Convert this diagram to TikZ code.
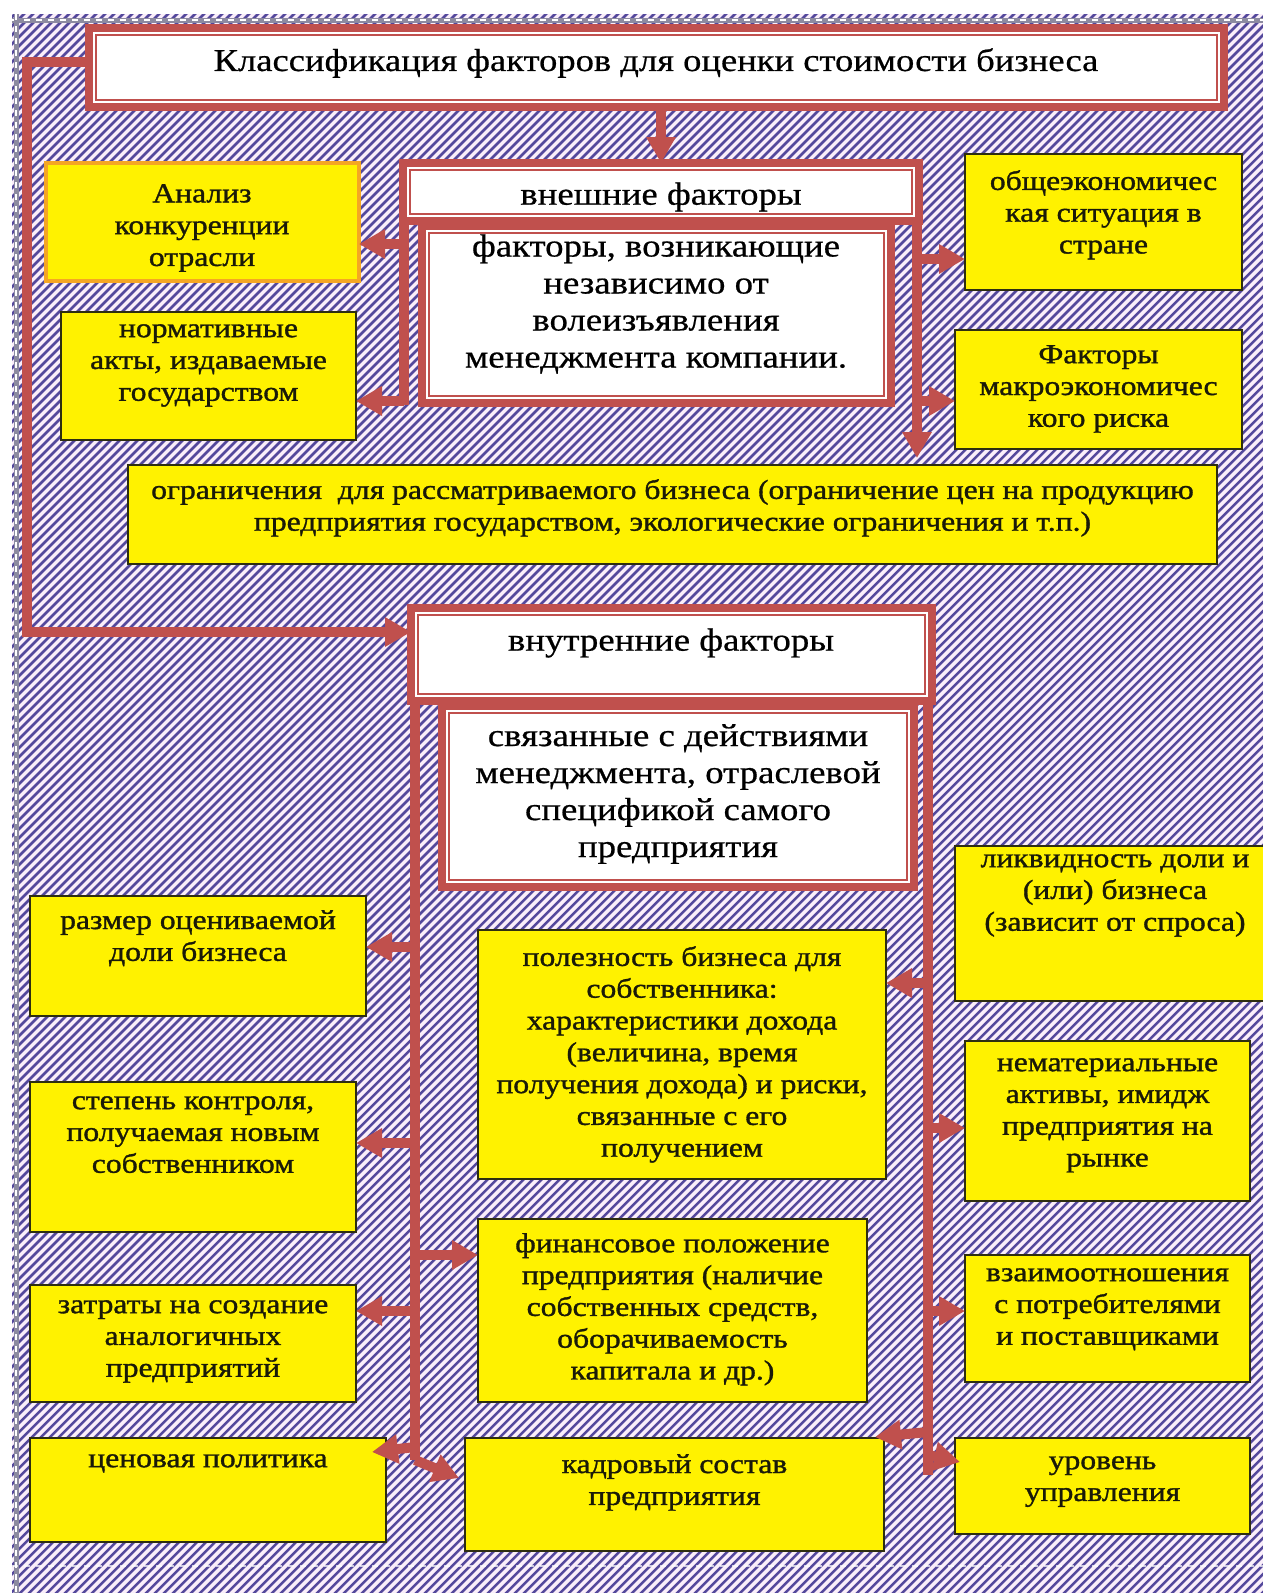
\documentclass[tikz,border=0pt]{standalone}
\usepackage{fontspec}
\setmainfont{Liberation Serif}
\newfontfamily\yfont{Liberation Serif}[FakeStretch=1.15, FakeBold=1.2]
\newfontfamily\wfont{Liberation Serif}[FakeStretch=1.15, FakeBold=0.6]
\usetikzlibrary{arrows.meta}
\definecolor{hred}{HTML}{C0504D}
\definecolor{hatchdark}{HTML}{54489C}
\definecolor{hatchlight}{HTML}{FAEEFA}
\definecolor{ybord}{HTML}{2E2E10}
\definecolor{obord}{HTML}{F5A623}
\definecolor{dashgray}{HTML}{8C8AA0}
\definecolor{ytext}{HTML}{1A1A08}

\newcommand{\ybx}[7]{%
  \node[ybox, minimum width={#4-#2}, minimum height={#5-#3}] (#1) at (#2,#3) {};
  \node[ytxt] (#1t) at ({(#2+#4)/2},{#6-9}) {#7};}
\newcommand{\wbx}[5]{%
  \node[wbox, minimum width={#4-#2}, minimum height={#5-#3}] (#1) at (#2,#3) {};
  \draw[hred, line width=1.5pt] ([shift={(7,7)}]#1.north west) rectangle ([shift={(-7,-7)}]#1.south east);}

\begin{document}
\begin{tikzpicture}[x=1pt,y=-1pt,
  ybox/.style={draw=ybord, line width=2pt, fill=yellow, inner sep=0pt, outer sep=0pt, anchor=north west},
  wbox/.style={draw=hred, line width=8pt, fill=white, inner sep=0pt, outer sep=0pt, anchor=north west},
  ytxt/.style={align=center, text=ytext, font=\yfont\fontsize{27.5}{31.8}\selectfont, inner sep=0pt, anchor=north},
  wtxt/.style={align=center, text=black, font=\wfont\fontsize{32}{37}\selectfont, inner sep=0pt},
  conn/.style={draw=hred, line width=10pt},
  arr/.style={draw=hred, line width=10pt, -{Triangle[length=26pt,width=28pt]}},
]
\useasboundingbox (0,0) rectangle (1263,1593);
\fill[white] (0,0) rectangle (1263,1593);
% hatched background
\begin{scope}
  \clip (12,14) rectangle (1263,1593);
  \fill[hatchlight] (12,14) rectangle (1263,1593);
  \foreach \c in {20,29,...,2880} \draw[hatchdark, line width=2.5pt] (\c,0) -- ({\c-1700},1700);
\end{scope}
\draw[dashgray, line width=5pt] (12,20) -- (1263,20);
\draw[white, line width=2.5pt, dash pattern=on 6pt off 6pt] (12,20) -- (1263,20);
\draw[dashgray, line width=5pt] (16,14) -- (16,1593);
\draw[white, line width=2.5pt, dash pattern=on 6pt off 6pt] (16,14) -- (16,1593);
\draw[white, line width=2pt, dash pattern=on 6pt off 6pt, opacity=0.7] (12,1566) -- (1263,1566);

% white boxes
\wbx{title}{89}{28}{1224}{107}
\node[wtxt, font=\wfont\fontsize{31.8}{38}\selectfont] (titlet) at (656,63) {Классификация факторов для оценки стоимости бизнеса};
\wbx{ext}{403}{163}{919}{221}
\node[wtxt] (extt) at (661,197) {внешние факторы};
\wbx{extd}{422}{226}{891}{403}
\node[wtxt] (extdt) at (656,304) {факторы, возникающие\\независимо от\\волеизъявления\\менеджмента компании.};
\wbx{intl}{411}{608}{932}{701}
\node[wtxt] (intlt) at (671,643) {внутренние факторы};
\wbx{intd}{442}{706}{914}{887}
\node[wtxt] (intdt) at (678,794) {связанные с действиями\\менеджмента, отраслевой\\спецификой самого\\предприятия};

% yellow boxes
\node[ybox, draw=obord, line width=4pt, minimum width=313, minimum height=118] (analysis) at (46,163) {};
\node[ytxt] (analysist) at (202,184) {Анализ\\конкуренции\\отрасли};
\ybx{norm}{61}{312}{356}{440}{333}{нормативные\\акты, издаваемые\\государством}
\ybx{obsh}{965}{154}{1242}{290}{179}{общеэкономичес\\кая ситуация в\\стране}
\ybx{macro}{955}{330}{1242}{449}{354}{Факторы\\макроэкономичес\\кого риска}
\ybx{ogr}{128}{465}{1217}{564}{488}{ограничения~~для рассматриваемого бизнеса (ограничение цен на продукцию\\предприятия государством, экологические ограничения и т.п.)}
\ybx{razmer}{30}{896}{366}{1016}{919}{размер оцениваемой\\доли бизнеса}
\ybx{polez}{478}{930}{886}{1179}{955}{полезность бизнеса для\\собственника:\\характеристики дохода\\(величина, время\\получения дохода) и риски,\\связанные с его\\получением}
\ybx{likv}{955}{846}{1275}{1001}{863}{ликвидность доли и\\(или) бизнеса\\(зависит от спроса)}
\ybx{stepen}{30}{1082}{356}{1232}{1105}{степень контроля,\\получаемая новым\\собственником}
\ybx{nemat}{965}{1041}{1250}{1201}{1067}{нематериальные\\активы, имидж\\предприятия на\\рынке}
\ybx{fin}{478}{1219}{867}{1402}{1242}{финансовое положение\\предприятия (наличие\\собственных средств,\\оборачиваемость\\капитала и др.)}
\ybx{zatr}{30}{1285}{356}{1402}{1309}{затраты на создание\\аналогичных\\предприятий}
\ybx{vzaim}{965}{1255}{1250}{1382}{1277}{взаимоотношения\\с потребителями\\и поставщиками}
\ybx{cen}{30}{1438}{386}{1542}{1463}{ценовая политика}
\ybx{kadr}{465}{1438}{884}{1551}{1463}{кадровый состав\\предприятия}
\ybx{urov}{955}{1438}{1250}{1534}{1465}{уровень\\управления}

% connectors: title
\draw[arr] (title.south -| ext.north) -- (ext.north);
\coordinate (lc1) at (27,62);
\coordinate (lc2) at (27,632);
\draw[arr] (title.west |- lc1) -- (lc1) -- (lc2) -- (lc2 -| intl.west);

% external left
\coordinate (eL) at (404,405);
\coordinate (eLa) at (404,244);
\coordinate (eLb) at (404,401);
\draw[conn] (ext.south west -| eL) -- (eL);
\draw[arr] (eLa) -- (eLa -| analysis.east);
\draw[arr] (eLb) -- (eLb -| norm.east);
% external right
\coordinate (eR) at (917,458);
\coordinate (eRa) at (917,259);
\coordinate (eRb) at (917,401);
\draw[arr] (ext.south east -| eR) -- (eR);
\draw[arr] (eRa) -- (eRa -| obsh.west);
\draw[arr] (eRb) -- (eRb -| macro.west);

% internal left
\coordinate (iL) at (415,1460);
\coordinate (iLa) at (415,947);
\coordinate (iLb) at (415,1143);
\coordinate (iLc) at (415,1255);
\coordinate (iLd) at (415,1311);
\coordinate (iLe) at (415,1447);
\draw[conn] (intl.south west -| iL) -- (iL);
\draw[arr] (iLa) -- (iLa -| razmer.east);
\draw[arr] (iLb) -- (iLb -| stepen.east);
\draw[arr] (iLc) -- (iLc -| fin.west);
\draw[arr] (iLd) -- (iLd -| zatr.east);
\draw[arr] (iLe) -- ([shift={(-14,14)}]cen.north east);
\draw[arr] (iL) -- ([shift={(-6,40)}]kadr.north west);

% internal right
\coordinate (iR) at (928,1475);
\coordinate (iRa) at (928,983);
\coordinate (iRb) at (928,1128);
\coordinate (iRc) at (928,1311);
\coordinate (iRd) at (928,1432);
\coordinate (iRe) at (928,1455);
\draw[conn] (intl.south east -| iR) -- (iR);
\draw[arr] (iRa) -- (iRa -| polez.east);
\draw[arr] (iRb) -- (iRb -| nemat.west);
\draw[arr] (iRc) -- (iRc -| vzaim.west);
\draw[arr] (iRd) -- ([shift={(-9,-1)}]kadr.north east);
\draw[arr] (iRe) -- ([shift={(5,24)}]urov.north west);
\end{tikzpicture}
\end{document}
